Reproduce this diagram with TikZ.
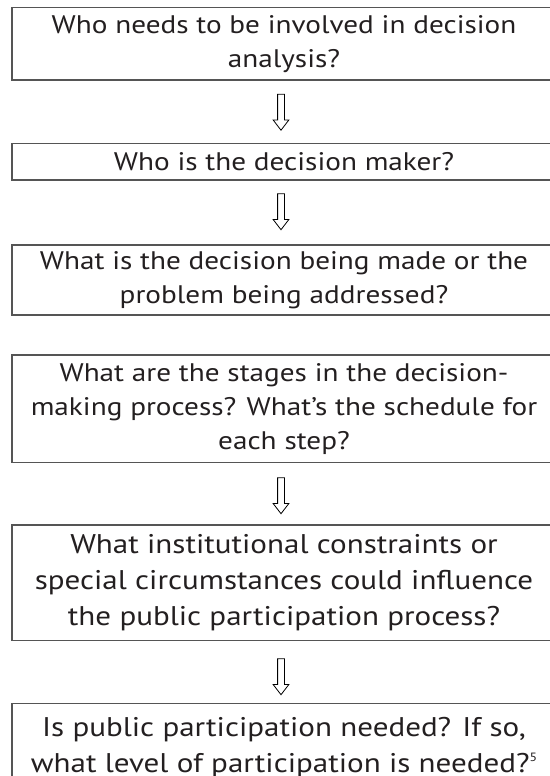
\documentclass[tikz,border=0pt]{standalone}
\usepackage{fontspec}
\setmainfont[FakeStretch=1.15]{PT Sans}
\usetikzlibrary{shapes.arrows}
\definecolor{boxline}{HTML}{555555}
\definecolor{txt}{HTML}{231F20}
\newcommand{\fnmark}[1]{\raisebox{0.42em}{\fontsize{12}{12}\selectfont #1}}
\tikzset{
  qbox/.style={draw=boxline, line width=1.3pt, rectangle, minimum width=544pt,
    inner sep=0pt, align=center, text=txt, font=\fontsize{25.4}{34}\selectfont},
  qboxbig/.style={qbox, font=\fontsize{27}{36}\selectfont},
  downarrow/.style={draw=black, line width=0.8pt, single arrow, shape border rotate=270,
    minimum height=36pt, minimum width=15pt, inner sep=3pt, single arrow head extend=4.5pt,
    single arrow tip angle=75, fill=white}
}
\begin{document}
\begin{tikzpicture}[x=1pt,y=-1pt]
\useasboundingbox (0,0) rectangle (549,776);
\node[qbox, minimum height=72.7pt] (b1) at (284,43.7) {Who needs to be involved in decision\\analysis?};
\node[downarrow] (a1) at (281,110) {};
\node[qbox, minimum height=36.7pt] (b2) at (284,161.7) {Who is the decision maker?};
\node[downarrow] (a2) at (281,209.5) {};
\node[qbox, minimum height=70pt] (b3) at (284,280) {What is the decision being made or the\\problem being addressed?};
\node[qbox, minimum height=107.3pt] (b4) at (284,408.7) {What are the stages in the decision-\\making process? What’s the schedule for\\each step?};
\node[downarrow] (a3) at (281,493.5) {};
\node[qboxbig, minimum height=115.7pt] (b5) at (284,582.8) {What institutional constraints or\\special circumstances could influence\\the public participation process?};
\node[downarrow] (a4) at (281,674.5) {};
\node[qboxbig, minimum height=89.4pt] (b6) at (284,748) {Is public participation needed? If so,\\what level of participation is needed?\fnmark{5}};
\end{tikzpicture}
\end{document}
